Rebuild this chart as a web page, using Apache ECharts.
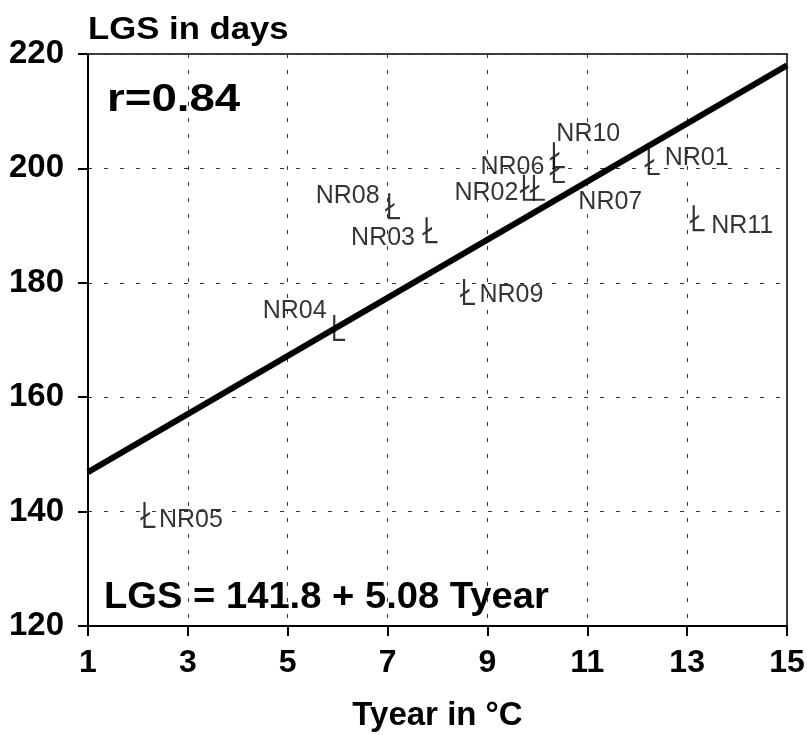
<!DOCTYPE html>
<html>
<head>
<meta charset="utf-8">
<script src="https://cdn.jsdelivr.net/npm/echarts@6/dist/echarts.min.js"></script>
<style>html,body{margin:0;padding:0;background:#fff}#c{width:807px;height:735px}</style>
</head>
<body>
<div id="c"></div>
<script>
// Data
const stations = ['NR01','NR02','NR03','NR04','NR05','NR06','NR07','NR08','NR09','NR10','NR11'];
const tyear = [12.3, 9.8, 7.85, 6.0, 2.2, 10.4, 10.0, 7.1, 8.6, 10.4, 13.2];
const lgs = [201.1, 196.6, 189.2, 172.1, 139.4, 199.7, 196.6, 193.4, 178.4, 202.3, 191.3];
const fitT = [1, 15];
const fitLGS = [146.9, 218.0];
const xTicks = [1, 3, 5, 7, 9, 11, 13, 15];
const yTicks = [120, 140, 160, 180, 200, 220];

// label placement (style only)
const labelPlace = {
  NR01: ['right', 5, -4], NR02: ['left', 1.5, 5], NR03: ['left', 7.5, 8],
  NR04: ['left', 3.5, -17], NR05: ['right', 3.5, 5], NR06: ['left', 5.5, -3],
  NR07: ['right', 33.5, 14], NR08: ['left', 5.5, -10], NR09: ['right', 4.5, 3],
  NR10: ['right', -8.5, -21], NR11: ['right', 6.5, 8]
};

const markerPath = 'path://M3 0 L5.2 0 L5.2 23.8 L15 23.8 L15 26 L3 26 Z M0 16 L9.5 9.6 L9.5 12.2 L0 18.6 Z';
const FONT = 'Liberation Sans';

const scatterData = stations.map((n, i) => {
  const p = labelPlace[n];
  const dx = p[0] === 'right' ? p[1] : -p[1];
  return {
    name: n,
    value: [tyear[i], lgs[i]],
    label: { show: true, position: p[0], distance: 0, offset: [dx, p[2]], formatter: n }
  };
});

const chart = echarts.init(document.getElementById('c'), null, { renderer: 'canvas' });
chart.setOption({
  backgroundColor: '#fff',
  animation: false,
  grid: { left: 88, right: 20, top: 54, bottom: 109, outerBoundsMode: 'none', containLabel: false,
    show: true, borderColor: '#000', borderWidth: 1.5, backgroundColor: 'transparent' },
  xAxis: {
    type: 'value', min: 1, max: 15, interval: 2,
    name: 'Tyear in °C', nameLocation: 'middle', nameGap: 73,
    nameTextStyle: { fontFamily: FONT, fontWeight: 'bold', fontSize: 33, color: '#000' },
    axisLine: { show: true, lineStyle: { color: '#000', width: 2 } },
    axisTick: { show: true, length: 10, lineStyle: { color: '#000', width: 2 } },
    axisLabel: { fontFamily: FONT, fontWeight: 'bold', fontSize: 32, color: '#000', margin: 21,
      formatter: v => xTicks.indexOf(v) >= 0 ? String(v) : '' },
    splitLine: { show: true, lineStyle: { color: '#333', width: 1, type: [4, 12] } }
  },
  yAxis: {
    type: 'value', min: 120, max: 220, interval: 20,
    axisLine: { show: true, lineStyle: { color: '#000', width: 2 } },
    axisTick: { show: true, length: 10, lineStyle: { color: '#000', width: 2 } },
    axisLabel: { fontFamily: FONT, fontWeight: 'bold', fontSize: 33, color: '#000', margin: 24,
      formatter: v => yTicks.indexOf(v) >= 0 ? String(v) : '' },
    splitLine: { show: true, lineStyle: { color: '#333', width: 1, type: [4, 12] } }
  },
  graphic: [
    { type: 'text', x: 88, y: 15, scaleX: 1.12, style: { text: 'LGS in days', font: 'bold 31px "Liberation Sans"', fill: '#000' } },
    { type: 'text', x: 107, y: 81, scaleX: 1.17, style: { text: 'r=0.84', font: 'bold 39px "Liberation Sans"', fill: '#000' } },
    { type: 'text', x: 104, y: 580, scaleX: 1.06, style: { text: 'LGS = 141.8 + 5.08 Tyear', font: 'bold 36px "Liberation Sans"', fill: '#000' } }
  ],
  series: [
    {
      type: 'line', data: fitT.map((t, i) => [t, fitLGS[i]]), symbol: 'none',
      lineStyle: { color: '#000', width: 6 }, silent: true, z: 3
    },
    {
      type: 'scatter', data: scatterData, symbol: markerPath, symbolSize: [15, 26],
      itemStyle: { color: '#000' },
      label: { fontFamily: FONT, fontSize: 25, color: '#000' },
      z: 4
    }
  ]
});
</script>
</body>
</html>
